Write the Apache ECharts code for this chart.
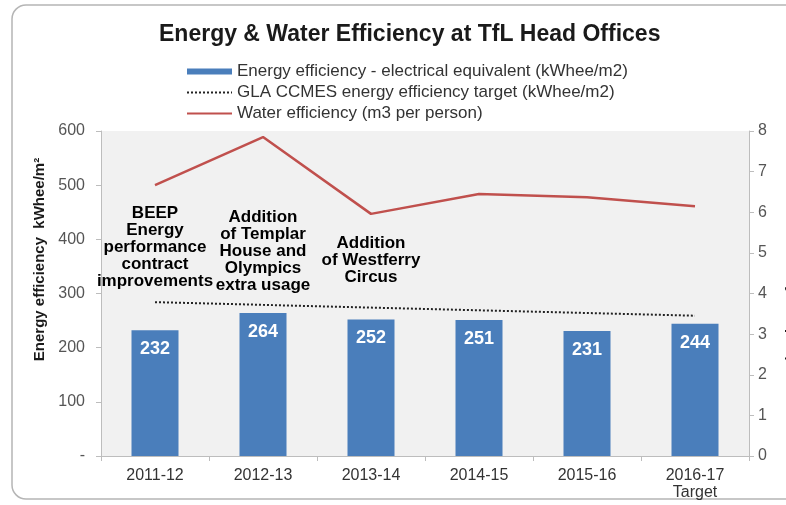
<!DOCTYPE html>
<html>
<head>
<meta charset="utf-8">
<script src="https://cdn.jsdelivr.net/npm/echarts@6/dist/echarts.min.js"></script>
<style>
  html, body { margin: 0; padding: 0; background: #fff; }
  #main { width: 786px; height: 505px; }
</style>
</head>
<body>
<div id="main"></div>
<script>
// categories and values
var years = ['2011-12', '2012-13', '2013-14', '2014-15', '2015-16', '2016-17\nTarget'];
var energy = [232, 264, 252, 251, 231, 244];
var target = [284, 279, 274, 269, 264, 259];
var water = [6.67, 7.85, 5.96, 6.45, 6.37, 6.15];
// annotation text, anchored at a category and a left-axis value
var noteCats = ['2011-12', '2012-13', '2013-14'];
var noteVals = [385, 378, 362];
var noteTexts = [
    'BEEP\nEnergy\nperformance\ncontract\nimprovements',
    'Addition\nof Templar\nHouse and\nOlympics\nextra usage',
    'Addition\nof Westferry\nCircus'
];

var font = 'Liberation Sans, Arial, sans-serif';

var myChart = echarts.init(document.getElementById('main'));

var noteData = noteCats.map(function (c, i) {
    return {value: [c, noteVals[i]], note: noteTexts[i]};
});

var option = {
    animation: false,
    textStyle: {fontFamily: font},
    title: {
        text: 'Energy & Water Efficiency at TfL Head Offices',
        left: 154,
        top: 18,
        textStyle: {fontSize: 23, fontWeight: 'bold', color: '#1a1a1a', fontFamily: font}
    },
    legend: {
        orient: 'vertical',
        left: 181,
        top: 58,
        itemGap: 4,
        itemWidth: 45,
        itemHeight: 6,
        textStyle: {fontSize: 17, color: '#333', fontFamily: font},
        data: [
            {name: 'Energy efficiency - electrical equivalent (kWhee/m2)', icon: 'rect'},
            {name: 'GLA CCMES energy efficiency target (kWhee/m2)', itemStyle: {opacity: 0}},
            {name: 'Water efficiency (m3 per person)', itemStyle: {opacity: 0}}
        ]
    },
    graphic: [{
        type: 'rect',
        z: -10,
        shape: {x: 12, y: 5, width: 800, height: 494, r: 14},
        style: {fill: 'none', stroke: '#b5b5b5', lineWidth: 1.5}
    }],
    grid: {
        left: 101,
        right: 37,
        top: 131,
        bottom: 49,
        outerBoundsMode: 'none',
        containLabel: false,
        show: true,
        backgroundColor: '#f1f1f1',
        borderWidth: 0
    },
    xAxis: {
        type: 'category',
        data: years,
        axisLine: {lineStyle: {color: '#bdbdbd'}},
        axisTick: {show: true, length: 5, lineStyle: {color: '#bdbdbd'}},
        axisLabel: {fontSize: 16, color: '#333', margin: 11, lineHeight: 17, fontFamily: font}
    },
    yAxis: [
        {
            type: 'value',
            min: 0,
            max: 600,
            interval: 100,
            name: 'Energy efficiency  kWhee/m\u00b2',
            nameLocation: 'middle',
            nameGap: 54,
            nameTextStyle: {
                fontSize: 15, color: '#1a1a1a', fontWeight: 'bold', fontFamily: font,
                padding: [0, 0, 0, 68]
            },
            axisLine: {show: true, lineStyle: {color: '#bdbdbd'}},
            axisTick: {show: true, length: 5, lineStyle: {color: '#bdbdbd'}},
            splitLine: {show: false},
            axisLabel: {
                fontSize: 16, color: '#555', margin: 16, fontFamily: font,
                formatter: function (v) { return v === 0 ? '-' : v; }
            }
        },
        {
            type: 'value',
            min: 0,
            max: 8,
            interval: 1,
            name: 'Water efficiency  m3 per person',
            nameLocation: 'middle',
            nameGap: 36,
            nameRotate: -90,
            nameTextStyle: {fontSize: 15, color: '#1a1a1a', fontWeight: 'bold', fontFamily: font},
            axisLine: {show: true, lineStyle: {color: '#bdbdbd'}},
            axisTick: {show: true, length: 5, lineStyle: {color: '#bdbdbd'}},
            splitLine: {show: false},
            axisLabel: {fontSize: 16, color: '#555', margin: 9, fontFamily: font}
        }
    ],
    series: [
        {
            name: 'Energy efficiency - electrical equivalent (kWhee/m2)',
            type: 'bar',
            barWidth: 47,
            data: energy,
            itemStyle: {color: '#4a7ebb'},
            label: {
                show: true,
                position: 'insideTop',
                distance: 10,
                color: '#fff',
                fontSize: 18,
                fontWeight: 'bold',
                fontFamily: font
            }
        },
        {
            name: 'GLA CCMES energy efficiency target (kWhee/m2)',
            type: 'line',
            data: target,
            symbol: 'none',
            lineStyle: {color: '#222', width: 2, type: [2, 2]},
            itemStyle: {color: '#222'}
        },
        {
            name: 'Water efficiency (m3 per person)',
            type: 'line',
            yAxisIndex: 1,
            data: water,
            symbol: 'none',
            lineStyle: {color: '#c0504d', width: 2.5},
            itemStyle: {color: '#c0504d'}
        },
        {
            name: 'notes',
            type: 'scatter',
            silent: true,
            symbol: 'rect',
            symbolSize: 2,
            itemStyle: {color: 'rgba(0,0,0,0)', opacity: 1},
            label: {
                show: true,
                position: 'inside',
                color: '#000',
                fontSize: 17,
                fontWeight: 'bold',
                lineHeight: 17,
                align: 'center',
                fontFamily: font,
                formatter: function (p) { return p.data.note; }
            },
            data: noteData
        }
    ]
};

myChart.setOption(option);
</script>
</body>
</html>
